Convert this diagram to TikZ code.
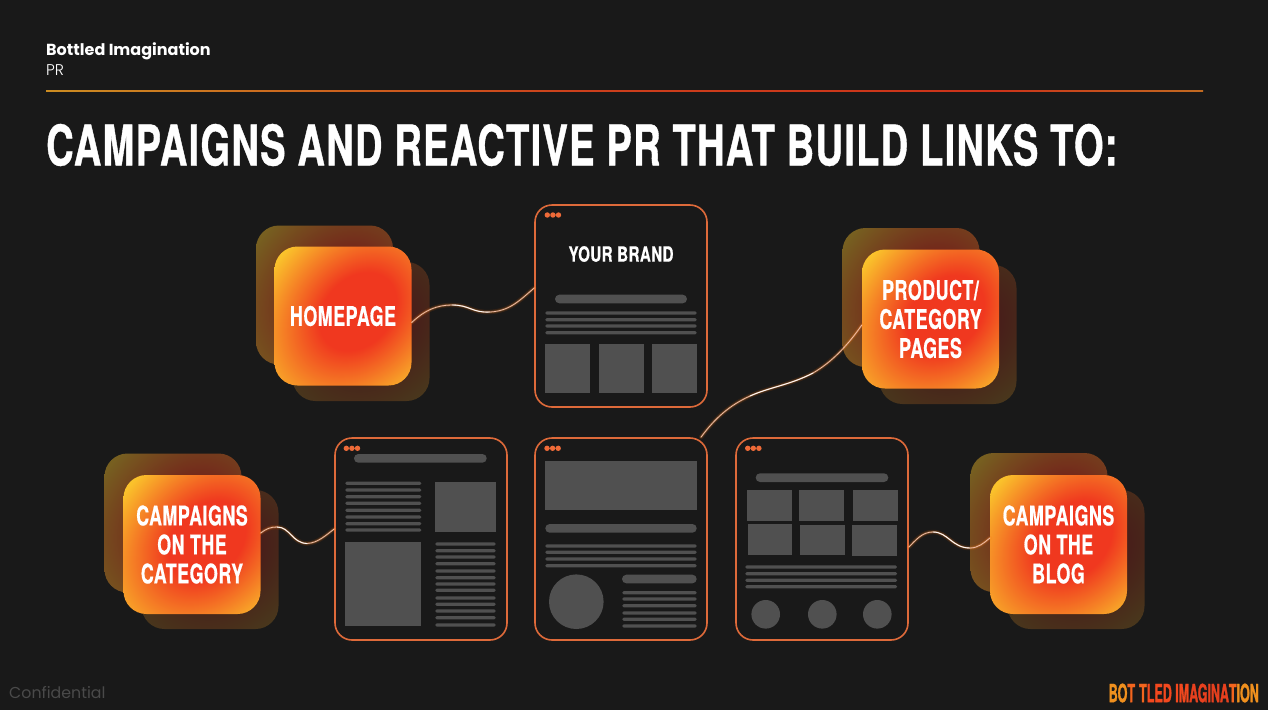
\documentclass[tikz,border=0pt]{standalone}
\usepackage{fontspec}
\usetikzlibrary{calc}
\setmainfont{Poppins}
\newfontfamily\poplight{Poppins Light}
\newfontfamily\heavy[FakeStretch=0.68,LetterSpace=2.3,FakeBold=.7]{TeX Gyre Heros Bold}
\newfontfamily\cardf[FakeStretch=0.66,LetterSpace=2,FakeBold=.6]{TeX Gyre Heros Bold}
\newfontfamily\brandf[FakeStretch=0.72,LetterSpace=2,FakeBold=.5]{TeX Gyre Heros Bold}
\newfontfamily\logof[FakeStretch=0.5,FakeBold=1.2]{TeX Gyre Heros Bold}
\definecolor{bg}{HTML}{191919}
\definecolor{ph}{HTML}{505050}
\definecolor{frameor}{HTML}{DE6A3A}
\definecolor{dot}{HTML}{EE6A38}
\definecolor{lgA}{HTML}{F0901E}
\definecolor{lgB}{HTML}{F4481E}
\definecolor{lgC}{HTML}{E8401E}
\definecolor{conftext}{HTML}{4A4A4A}
\pgfdeclarefunctionalshading{cardshade}{\pgfpointorigin}{\pgfpoint{100bp}{100bp}}{}{
 50 sub 25 div exch 50 sub 25 div
 2 copy add 0.707 mul 0.2 sub 1.15 div dup mul
 3 1 roll exch sub 0.15 sub 0.707 mul 0.88 div dup mul
 add sqrt
 0.55 sub 1.0 div dup 0 lt {pop 0} if dup 1 gt {pop 1} if
 dup 0.04 mul 0.94 add exch
 dup 0.54 mul 0.22 add exch
 0.05 mul 0.12 add
}
\pgfdeclarehorizontalshading{rulegrad}{100bp}{rgb(0bp)=(.80,.55,.13);rgb(25bp)=(.80,.55,.13);rgb(48bp)=(.80,.25,.11);rgb(66bp)=(.80,.2,.1);rgb(75bp)=(.76,.42,.13);rgb(100bp)=(.76,.42,.13)}
\tikzset{
 x=1pt,y=-1pt,
 cardbase/.style={rectangle,rounded corners=23pt,minimum width=137pt,minimum height=139pt,inner sep=0pt,shade,shading=cardshade},
 backone/.style={cardbase,fill opacity=.42},
 backtwo/.style={cardbase,fill opacity=.22},
 cardfront/.style={cardbase,text=white,align=center,font=\cardf\fontsize{27}{29}\selectfont},
 pageframe/.style={rectangle,draw=frameor,line width=1.6pt,rounded corners=17pt,minimum width=172pt,minimum height=202pt,inner sep=0pt},
 wirebase/.style={line cap=round},
 glowA/.style={wirebase,draw=orange!80!red,line width=4.5pt,draw opacity=.12},
 glowB/.style={wirebase,draw=orange!70!white,line width=2.2pt,draw opacity=.28},
 glowC/.style={wirebase,draw=frameor!45!white,line width=.8pt},
 core/.style={wirebase,draw=white,line width=.9pt,draw opacity=.9},
}
\newcommand{\phline}[3]{\fill[ph,rounded corners=1.4pt] (#1,#3-1.6) rectangle (#2,#3+1.6);}
\newcommand{\phpill}[4]{\fill[ph,rounded corners=4.3pt] (#1,#3) rectangle (#2,#4);}
\newcommand{\phbox}[4]{\fill[ph] (#1,#3) rectangle (#2,#4);}
\newcommand{\threedots}[2]{\fill[dot] (#1,#2) circle (2.7) (#1+5.6,#2) circle (2.7) (#1+11.2,#2) circle (2.7);}
\newcommand{\glowwire}[2]{%
 \draw[glowA] #1; \draw[glowB] #1; \draw[glowC] #1; \draw[core] #2;}
\begin{document}
\begin{tikzpicture}
\useasboundingbox (0,0) rectangle (1268,710);
\fill[bg] (0,0) rectangle (1268,710);
% header
\node[anchor=west,inner sep=0pt,text=white,font=\bfseries\fontsize{16}{18}\selectfont] (brandname) at (46,51) {Bottled Imagination};
\node[anchor=west,inner sep=0pt,text=white,font=\poplight\fontsize{15.5}{18}\selectfont] (prlabel) at (46,70) {PR};
\shade[shading=rulegrad] (46,90.2) rectangle (1203,91.8);
\node[anchor=west,inner sep=0pt,text=white,font=\heavy\fontsize{56}{60}\selectfont] (title) at (46,145) {CAMPAIGNS AND REACTIVE PR THAT BUILD LINKS TO:};
% page frames
\node[pageframe] (brandpage) at (621,306) {};
\node[pageframe] (catpage) at (421,539) {};
\node[pageframe] (midpage) at (621,539) {};
\node[pageframe] (blogpage) at (822,539) {};
% brand page
\threedots{547.3}{215}
\node[text=white,inner sep=0pt,font=\brandf\fontsize{21}{24}\selectfont] (yourbrand) at (621,254) {YOUR BRAND};
\phpill{555}{687}{294.7}{303.3}
\phline{545.3}{696.7}{313}\phline{545.3}{696.7}{319.7}\phline{545.3}{696.7}{326}\phline{545.3}{696.7}{332.7}
\phbox{545.3}{590}{344.3}{393.3}\phbox{599}{643.7}{344.3}{393.3}\phbox{652}{696.7}{344.3}{393.3}
% category page
\threedots{346.3}{448.3}
\phpill{354}{486.7}{454}{462.7}
\foreach \yy in {483.3,490,496.7,503.3,510.3,517,523.7,530} {\phline{345.3}{421.3}{\yy}}
\phbox{435}{495.7}{482.3}{531.7}
\phbox{345}{420.7}{542.3}{626}
\foreach \yy in {544,550.7,557,563.7,571,577.7,584,590.3,598,604.3,611,617.7,625} {\phline{435.3}{495.7}{\yy}}
% middle page
\threedots{547}{448.3}
\phbox{545.3}{697}{460.7}{510}
\phpill{545.3}{696.7}{524}{532.7}
\foreach \yy in {546,552.3,559,565.7} {\phline{545.3}{696.7}{\yy}}
\fill[ph] (576.3,601.7) circle (27.3);
\phpill{622}{696.7}{574.7}{583.3}
\foreach \yy in {592.7,599,605.7,613,619.3,626} {\phline{622.3}{696.7}{\yy}}
% blog page
\threedots{747.7}{448.3}
\phpill{755.7}{888.3}{473.3}{482}
\phbox{747.3}{791.7}{490.3}{520.7}\phbox{799.3}{844}{490.3}{520.7}\phbox{853}{897.7}{490.3}{520.7}
\phbox{748}{792.3}{524.3}{554.7}\phbox{800}{844.7}{525}{555.3}\phbox{852.3}{897.3}{525.3}{555.7}
\foreach \yy in {567,573.7,580.3,586.7} {\phline{745.3}{897}{\yy}}
\fill[ph] (765.7,614.3) circle (14.3) (822.3,614.3) circle (14.3) (877.3,614.3) circle (14.3);
% back cards
\node[backone] (homeA) at (324.5,295) {};
\node[backtwo] (homeB) at (361,331.5) {};
\node[backone] (prodA) at (911,297.5) {};
\node[backtwo] (prodB) at (948,334.5) {};
\node[backone] (catA) at (173,523) {};
\node[backtwo] (catB) at (210,559.5) {};
\node[backone] (blogA) at (1039,522.5) {};
\node[backtwo] (blogB) at (1076,559.5) {};
% front cards
\node[cardfront] (home) at (343,316) {HOMEPAGE};
\node[cardfront] (prod) at (930.5,319) {PRODUCT/\\CATEGORY\\PAGES};
\node[cardfront] (cat) at (192,544.5) {CAMPAIGNS\\ON THE\\CATEGORY};
\node[cardfront] (blog) at (1058.5,544.5) {CAMPAIGNS\\ON THE\\BLOG};
% connector ends
\coordinate (homeEnd) at ($(home.east)+(0,6.5)$);
\coordinate (brandEnd) at ($(brandpage.west)+(0,-18)$);
\coordinate (midEnd) at ($(midpage.north)+(80,0)$);
\coordinate (prodEnd) at ($(prod.west)+(0,6)$);
\coordinate (catEnd) at ($(cat.east)+(0,-11.5)$);
\coordinate (catPageEnd) at ($(catpage.west)+(0,-10)$);
\coordinate (blogPageEnd) at ($(blogpage.east)+(0,8)$);
\coordinate (blogEnd) at ($(blog.west)+(0,-6.5)$);
\glowwire{(homeEnd) .. controls (425,310) and (437,305) .. (452,305) .. controls (470,305) and (472,313) .. (490,312) .. controls (510,311) and (520,300) .. (brandEnd)}
 {(452,305) .. controls (470,305) and (472,313) .. (490,312)}
\glowwire{(midEnd) .. controls (715,418) and (730,405) .. (750,396) .. controls (770,387) and (790,385) .. (813,373) .. controls (832,362) and (848,345) .. (prodEnd)}
 {(750,396) .. controls (770,387) and (790,385) .. (813,373)}
\glowwire{(catEnd) .. controls (266,529) and (270,527) .. (277,527) .. controls (290,527) and (292,543) .. (307,543.5) .. controls (318,543) and (326,535) .. (catPageEnd)}
 {(277,527) .. controls (290,527) and (292,543) .. (307,543.5)}
\glowwire{(blogPageEnd) .. controls (916,540) and (922,532) .. (933,532) .. controls (948,532) and (952,548) .. (970,548) .. controls (978,548) and (984,543) .. (blogEnd)}
 {(933,532) .. controls (948,532) and (952,548) .. (970,548)}
% footer
\node[anchor=west,inner sep=0pt,text=conftext,font=\fontsize{15.8}{18}\selectfont] (conf) at (9,693) {Confidential};
\node[anchor=east,inner sep=0pt,font=\logof\fontsize{25}{26}\selectfont] (logo) at (1259,693) {\textcolor{lgA}{BO}\textcolor{lgB!60!lgA}{T}\,\textcolor{lgB!60!lgA}{T}\textcolor{lgB}{LED IM}\textcolor{lgC}{AGINA}\textcolor{lgB!60!lgA}{T}\textcolor{lgA}{ION}};
\end{tikzpicture}
\end{document}
